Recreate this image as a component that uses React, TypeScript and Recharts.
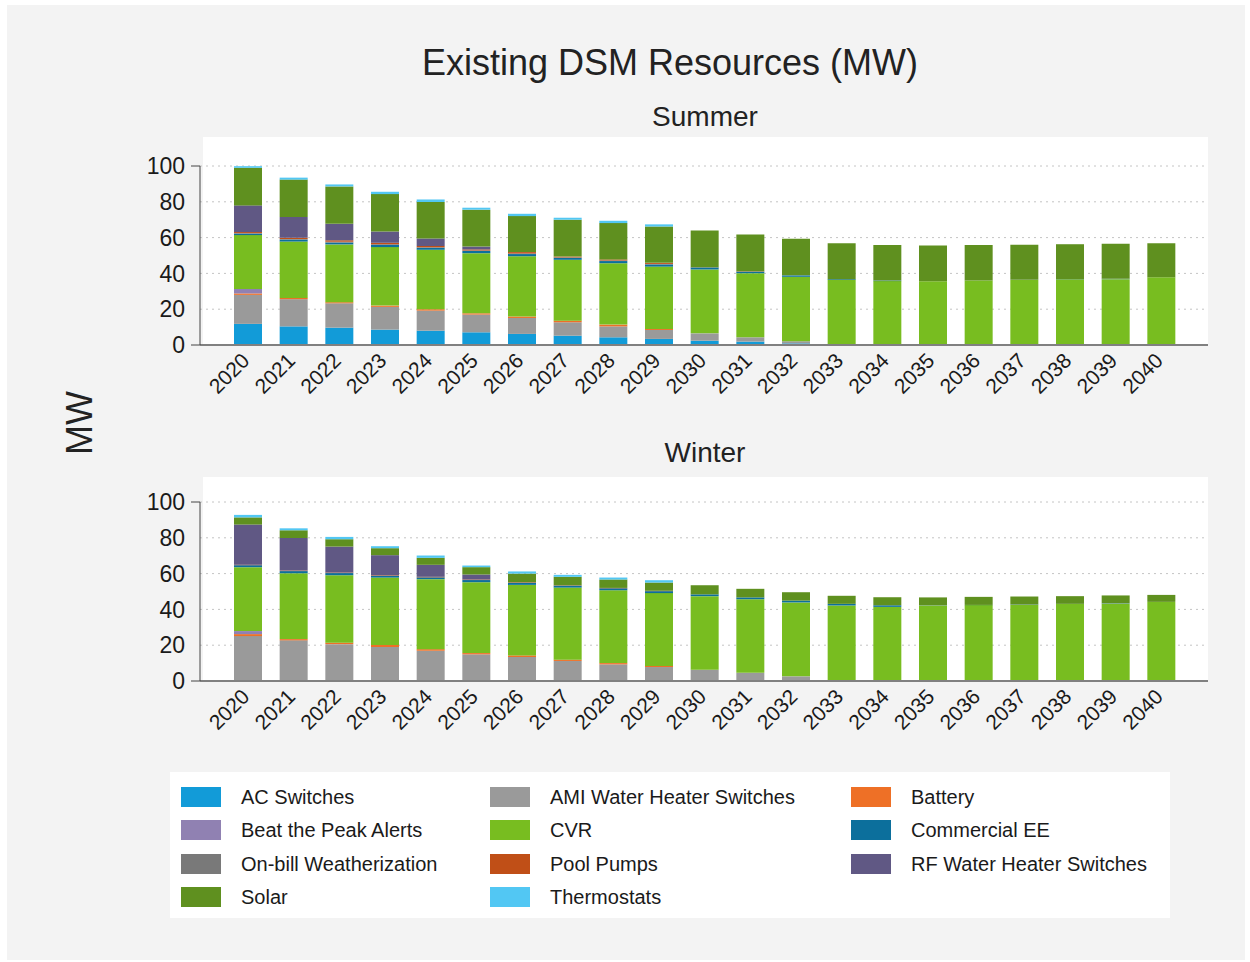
import React from "react";
import { BarChart, Bar, XAxis, YAxis, CartesianGrid } from "recharts";

const FONT = "'Liberation Sans', Arial, sans-serif";

const years = [
  "2020", "2021", "2022", "2023", "2024", "2025", "2026", "2027", "2028", "2029", "2030",
  "2031", "2032", "2033", "2034", "2035", "2036", "2037", "2038", "2039", "2040",
];
const yTicks = [0, 20, 40, 60, 80, 100];

// summer (MW)
const summerAcSwitches = [11.8, 10.4, 9.7, 8.6, 8.0, 7.1, 6.2, 5.2, 4.3, 3.4, 2.4, 1.9, 0.9, 0, 0, 0, 0, 0, 0, 0, 0];
const summerAmiWaterHeater = [16.2, 15.2, 13.6, 12.7, 11.2, 9.9, 8.9, 7.5, 6.1, 5.0, 4.1, 2.4, 1.2, 0, 0, 0, 0, 0, 0, 0, 0];
const summerBattery = [0.8, 0.7, 0.6, 0.7, 0.8, 0.7, 0.8, 0.9, 1.0, 0.6, 0, 0, 0, 0, 0, 0, 0, 0, 0, 0, 0];
const summerBeatThePeak = [2.5, 0, 0, 0, 0, 0, 0, 0, 0, 0, 0, 0, 0, 0, 0, 0, 0, 0, 0, 0, 0];
const summerCvr = [30.1, 31.5, 32.3, 32.7, 33.2, 33.6, 33.7, 34.0, 34.3, 34.8, 35.7, 35.8, 36.0, 36.4, 35.7, 35.6, 36.0, 36.3, 36.7, 36.8, 37.9];
const summerCommercialEE = [0.8, 1.1, 1.0, 1.2, 1.1, 1.2, 1.2, 1.1, 1.2, 1.2, 1.1, 0.9, 0.8, 0.4, 0.3, 0, 0, 0.1, 0.1, 0.2, 0];
const summerOnBill = [0.3, 0.3, 0.5, 0.4, 0.3, 0.3, 0.3, 0.2, 0.3, 0.3, 0.2, 0, 0, 0, 0, 0, 0, 0, 0, 0, 0];
const summerPoolPumps = [0.6, 0.7, 0.8, 0.8, 0.7, 0.6, 0.8, 0.5, 0.6, 0.6, 0, 0.2, 0, 0, 0, 0, 0, 0, 0, 0, 0];
const summerRfWaterHeater = [14.9, 11.6, 9.2, 6.3, 4.2, 1.6, 0, 0, 0, 0, 0, 0, 0, 0, 0, 0, 0, 0, 0, 0, 0];
const summerSolar = [21.0, 20.9, 20.9, 20.9, 20.4, 20.6, 20.1, 20.6, 20.3, 20.3, 20.5, 20.6, 20.4, 20.1, 19.8, 20.0, 19.8, 19.6, 19.5, 19.5, 19.0];
const summerThermostats = [0.9, 1.1, 1.1, 1.3, 1.4, 1.1, 1.3, 1.1, 1.3, 1.2, 0, 0, 0, 0, 0, 0, 0, 0, 0, 0, 0];

// winter (MW)
const winterAcSwitches = [0, 0, 0, 0, 0, 0, 0, 0, 0, 0, 0, 0, 0, 0, 0, 0, 0, 0, 0, 0, 0];
const winterAmiWaterHeater = [25.1, 22.7, 20.6, 19.0, 16.9, 14.9, 13.4, 11.2, 9.3, 7.8, 6.3, 4.6, 2.6, 0, 0, 0, 0, 0, 0, 0, 0];
const winterBattery = [1.1, 0.7, 0.8, 1.1, 0.9, 0.7, 0.9, 0.7, 0.7, 0.6, 0, 0, 0, 0, 0, 0, 0, 0, 0, 0, 0];
const winterBeatThePeak = [1.7, 0, 0, 0, 0, 0, 0, 0, 0, 0, 0, 0, 0, 0, 0, 0, 0, 0, 0, 0, 0];
const winterCvr = [35.7, 36.8, 37.7, 37.7, 39.1, 39.6, 39.4, 40.3, 40.7, 40.7, 41.1, 41.1, 41.3, 42.2, 41.4, 42.2, 42.4, 42.5, 43.0, 43.2, 44.2];
const winterCommercialEE = [1.1, 1.2, 1.2, 1.0, 1.0, 1.2, 1.2, 1.1, 1.1, 1.1, 1.0, 1.0, 1.0, 0.9, 0.9, 0.1, 0.1, 0.2, 0.1, 0.2, 0];
const winterOnBill = [0, 0, 0, 0, 0, 0, 0, 0, 0, 0, 0, 0, 0, 0, 0, 0, 0, 0, 0, 0, 0];
const winterPoolPumps = [0.3, 0.3, 0.3, 0.3, 0.3, 0.3, 0.3, 0.2, 0.2, 0.2, 0, 0, 0, 0, 0, 0, 0, 0, 0, 0, 0];
const winterRfWaterHeater = [22.4, 18.2, 14.5, 11.2, 6.7, 2.8, 0, 0, 0, 0, 0, 0, 0, 0, 0, 0, 0, 0, 0, 0, 0];
const winterSolar = [4.0, 4.3, 4.1, 3.9, 3.9, 4.1, 4.8, 4.7, 4.7, 4.6, 5.1, 4.8, 4.7, 4.5, 4.5, 4.4, 4.5, 4.5, 4.3, 4.4, 3.9];
const winterThermostats = [1.4, 1.1, 1.3, 1.1, 1.3, 0.9, 1.2, 1.1, 1.1, 1.3, 0, 0, 0, 0, 0, 0, 0, 0, 0, 0, 0];

// stacked bottom -> top, legend is row-major in this order
const series = [
  { key: "ac", name: "AC Switches", color: "#129bd8" },
  { key: "ami", name: "AMI Water Heater Switches", color: "#9a9a9a" },
  { key: "battery", name: "Battery", color: "#ee7026" },
  { key: "btp", name: "Beat the Peak Alerts", color: "#9081b2" },
  { key: "cvr", name: "CVR", color: "#78bd20" },
  { key: "cee", name: "Commercial EE", color: "#0c6f9c" },
  { key: "onbill", name: "On-bill Weatherization", color: "#797979" },
  { key: "pool", name: "Pool Pumps", color: "#c04f17" },
  { key: "rf", name: "RF Water Heater Switches", color: "#605884" },
  { key: "solar", name: "Solar", color: "#5f901f" },
  { key: "thermo", name: "Thermostats", color: "#52c7f3" },
];

const buildRows = (cols: Record<string, number[]>) =>
  years.map((year, i) => {
    const row: Record<string, string | number> = { year };
    for (const k of Object.keys(cols)) row[k] = cols[k][i];
    return row;
  });

const summerData = buildRows({
  ac: summerAcSwitches, ami: summerAmiWaterHeater, battery: summerBattery, btp: summerBeatThePeak,
  cvr: summerCvr, cee: summerCommercialEE, onbill: summerOnBill, pool: summerPoolPumps,
  rf: summerRfWaterHeater, solar: summerSolar, thermo: summerThermostats,
});
const winterData = buildRows({
  ac: winterAcSwitches, ami: winterAmiWaterHeater, battery: winterBattery, btp: winterBeatThePeak,
  cvr: winterCvr, cee: winterCommercialEE, onbill: winterOnBill, pool: winterPoolPumps,
  rf: winterRfWaterHeater, solar: winterSolar, thermo: winterThermostats,
});

type TickProps = { x?: number; y?: number; payload?: { value: string | number } };

const YearTick = ({ x, y, payload }: TickProps) => (
  <g transform={`translate(${(x ?? 0) + 3},${(y ?? 0) + 9})`}>
    <text textAnchor="end" transform="rotate(-45)" fontSize={21} fill="#1a1a1a" fontFamily={FONT}>
      {payload?.value}
    </text>
  </g>
);

// axis x comes in as the axis line itself (tickSize/tickMargin = 0)
const ValueTick = ({ x, y, payload }: TickProps) => {
  const v = payload?.value;
  const edge = v === 0 || v === 100;
  return (
    <g>
      {edge && <line x1={(x ?? 0) - 9} x2={x} y1={y} y2={y} stroke="#444" />}
      <text x={(x ?? 0) - 15} y={y} dy="0.36em" textAnchor="end" fontSize={23} fill="#1a1a1a" fontFamily={FONT}>
        {v}
      </text>
    </g>
  );
};

function SeasonChart({ data, top }: { data: Record<string, string | number>[]; top: number }) {
  return (
    <div style={{ position: "absolute", left: 60, top }}>
      <BarChart width={1160} height={260} data={data} margin={{ top: 20, right: 12, left: 0, bottom: 0 }} barSize={28}>
        <CartesianGrid vertical={false} stroke="#c4c4c4" strokeDasharray="2 4" />
        <XAxis
          dataKey="year"
          interval={0}
          height={61}
          padding={{ left: 25, right: 24 }}
          tickLine={false}
          axisLine={{ stroke: "#808080", strokeWidth: 2 }}
          tick={<YearTick />}
        />
        <YAxis
          width={140}
          domain={[0, 100]}
          ticks={yTicks}
          tickLine={false}
          tickSize={0}
          tickMargin={0}
          axisLine={{ stroke: "#444" }}
          tick={<ValueTick />}
        />
        {series.map((s) => (
          <Bar key={s.key} dataKey={s.key} name={s.name} stackId="a" fill={s.color} isAnimationActive={false} />
        ))}
      </BarChart>
    </div>
  );
}

const legendCols = [181, 490, 851];
const legendRows = [787, 820, 854, 887];

export default function App() {
  return (
    <div style={{ position: "absolute", left: 0, top: 0, width: 1250, height: 962, background: "#fff", fontFamily: FONT, color: "#222" }}>
      <div style={{ position: "absolute", left: 7, top: 5, width: 1238, height: 955, background: "#f3f3f3" }} />
      <div style={{ position: "absolute", left: 203, top: 137, width: 1005, height: 208, background: "#fff" }} />
      <div style={{ position: "absolute", left: 203, top: 477, width: 1005, height: 205, background: "#fff" }} />
      <div style={{ position: "absolute", left: 170, top: 772, width: 1000, height: 146, background: "#fff" }} />

      <div style={{ position: "absolute", left: 370, top: 45, width: 600, textAlign: "center", fontSize: 36, lineHeight: "36px" }}>
        Existing DSM Resources (MW)
      </div>
      <div style={{ position: "absolute", left: 505, top: 103, width: 400, textAlign: "center", fontSize: 28, lineHeight: "28px" }}>
        Summer
      </div>
      <div style={{ position: "absolute", left: 505, top: 439, width: 400, textAlign: "center", fontSize: 28, lineHeight: "28px" }}>
        Winter
      </div>
      <div style={{ position: "absolute", left: 30, top: 405, width: 100, textAlign: "center", fontSize: 36, lineHeight: "36px", transform: "rotate(-90deg)" }}>
        MW
      </div>

      <SeasonChart data={summerData} top={146} />
      <SeasonChart data={winterData} top={482} />

      {series.map((s, i) => {
        const col = i % 3;
        const row = Math.floor(i / 3);
        return (
          <div key={s.key} style={{ position: "absolute", left: legendCols[col], top: legendRows[row], display: "flex", alignItems: "center" }}>
            <div style={{ width: 40, height: 20, background: s.color }} />
            <span style={{ marginLeft: 20, fontSize: 20, lineHeight: "20px", color: "#1a1a1a" }}>{s.name}</span>
          </div>
        );
      })}
    </div>
  );
}
